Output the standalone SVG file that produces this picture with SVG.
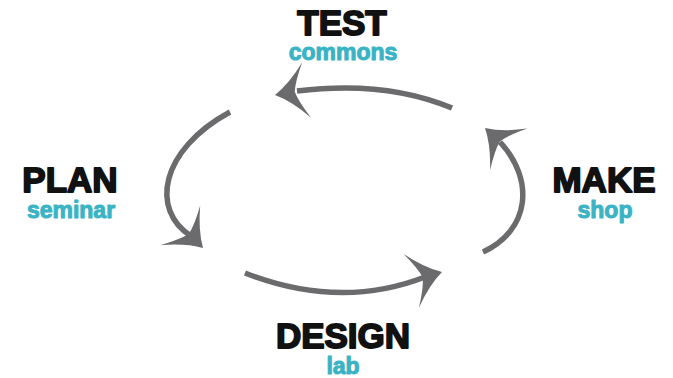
<svg xmlns="http://www.w3.org/2000/svg" xmlns:xlink="http://www.w3.org/1999/xlink" width="673" height="378" viewBox="0 0 673 378">
  <style>
    .title { font-family: "Liberation Sans", Arial, sans-serif; font-weight: bold; font-size: 35px; fill: #111; stroke: #111; stroke-width: 1.8px; stroke-linejoin: round; text-anchor: middle; }
    .sub { font-family: "Liberation Sans", Arial, sans-serif; font-weight: bold; font-size: 23px; fill: #3ab3c5; stroke: #3ab3c5; stroke-width: 1px; stroke-linejoin: round; text-anchor: middle; }
    .arc { fill: none; stroke: #6b6b6e; stroke-width: 5.5; stroke-linecap: butt; }
    .head { fill: #6b6b6e; }
  </style>
  <defs>
    <!-- swept arrowhead, tip at origin pointing along +x -->
    <path id="head" d="M0,0 Q-16,-9 -32,-28 Q-22,-10 -20,0 Q-22,10 -32,28 Q-16,9 0,0 Z"/>
  </defs>
  <rect width="673" height="378" fill="#fff"/>

  <g id="connectors">
    <path class="arc" d="M452,108 Q385,80 297,91"/>
    <use class="head" xlink:href="#head" transform="translate(275,95) rotate(171)"/>
    <path class="arc" d="M230,112 C160,150 150,210 191,236"/>
    <use class="head" xlink:href="#head" transform="translate(203,248) rotate(45)"/>
    <path class="arc" d="M245,273 Q340,310 425,277"/>
    <use class="head" xlink:href="#head" transform="translate(442,272) rotate(-16)"/>
    <path class="arc" d="M483,252 C530,230 535,180 500,142"/>
    <use class="head" xlink:href="#head" transform="translate(485,128) rotate(222)"/>
  </g>

  <g id="test">
    <text class="title" x="342" y="35">TEST</text>
    <text class="sub" x="343" y="60">commons</text>
  </g>
  <g id="plan">
    <text class="title" x="70" y="192">PLAN</text>
    <text class="sub" x="71" y="218">seminar</text>
  </g>
  <g id="make">
    <text class="title" x="604" y="192">MAKE</text>
    <text class="sub" x="605" y="218">shop</text>
  </g>
  <g id="design">
    <text class="title" x="343" y="348">DESIGN</text>
    <text class="sub" x="343" y="374">lab</text>
  </g>
</svg>
